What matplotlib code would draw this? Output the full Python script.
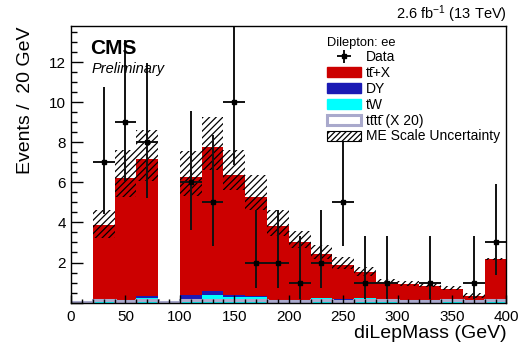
import numpy as np
import matplotlib
matplotlib.use("Agg")
import matplotlib.pyplot as plt
from matplotlib.patches import Patch
from matplotlib.ticker import MultipleLocator, FuncFormatter

plt.rcParams['font.family'] = ['Liberation Sans', 'DejaVu Sans']
plt.rcParams['mathtext.fontset'] = 'custom'
plt.rcParams['mathtext.rm'] = 'Liberation Sans'
plt.rcParams['mathtext.it'] = 'Liberation Sans:italic'
plt.rcParams['hatch.linewidth'] = 0.9

# 20 GeV bins of the dilepton invariant mass
edges = np.arange(0, 420, 20)

# observed events per bin
data = [0, 7, 9, 8, 0, 6, 5, 10, 2, 2, 1, 2, 5, 1, 1, 0, 1, 0, 1, 3]
# Poisson (Garwood) 68% interval bounds for the observed counts
data_lo = [0, 4.42, 6.06, 5.23, 0, 3.62, 2.84, 6.89, 0.71, 0.71, 0.17, 0.71,
           2.84, 0.17, 0.17, 0, 0.17, 0, 0.17, 1.37]
data_hi = [0, 10.77, 13.11, 11.95, 0, 9.58, 8.38, 14.27, 4.64, 4.64, 3.30, 4.64,
           8.38, 3.30, 3.30, 0, 3.30, 0, 3.30, 5.92]

# simulated backgrounds (stacked: tW, DY, ttX)
tw = [0, 0.12, 0.05, 0.22, 0, 0.15, 0.37, 0.28, 0.30, 0.12, 0.08, 0.25,
      0.10, 0.22, 0.10, 0.08, 0.10, 0.10, 0.03, 0.12]
dy = [0, 0.02, 0.02, 0.12, 0, 0.22, 0.20, 0.09, 0.02, 0.02, 0, 0,
      0.07, 0, 0, 0, 0, 0, 0, 0]
ttx = [0, 3.71, 6.15, 6.84, 0, 5.90, 7.21, 6.00, 4.95, 3.68, 2.92, 2.17,
       1.73, 1.30, 0.92, 0.87, 0.75, 0.58, 0.29, 2.03]
# four-top signal scaled by 20
tttt = [0.05, 0.12, 0.10, 0.12, 0.05, 0.15, 0.15, 0.12, 0.12, 0.10, 0.10, 0.12,
        0.06, 0.12, 0.12, 0.08, 0.10, 0.12, 0.10, 0.15]
# ME scale variation envelope on the total prediction
unc_lo = [0, 3.20, 5.27, 6.05, 0, 5.30, 6.60, 5.60, 4.60, 3.30, 2.70, 2.15,
          1.70, 1.35, 0.92, 0.85, 0.78, 0.62, 0.22, 2.10]
unc_hi = [0, 4.62, 7.60, 8.60, 0, 7.55, 9.27, 7.63, 6.35, 4.62, 3.55, 2.85,
          2.25, 1.80, 1.20, 1.10, 1.02, 0.85, 0.48, 2.22]

c_ttx = '#cc0000'
c_dy = '#1a1ab4'
c_tw = '#00ffff'
c_tttt = '#a9a9cc'

fig = plt.figure(figsize=(5.2, 3.47), dpi=100)
ax = fig.add_axes([0.1365, 0.128, 0.8375, 0.797])

left = edges[:-1]
width = np.diff(edges)
tw = np.array(tw)
dy = np.array(dy)
ttx = np.array(ttx)
ax.bar(left, tw, width, align='edge', color=c_tw, linewidth=0)
ax.bar(left, dy, width, bottom=tw, align='edge', color=c_dy, linewidth=0)
ax.bar(left, ttx, width, bottom=tw + dy, align='edge', color=c_ttx, linewidth=0)

ax.stairs(tttt, edges, color=c_tttt, linewidth=2.2)

unc_lo = np.array(unc_lo)
unc_hi = np.array(unc_hi)
ax.bar(left, unc_hi - unc_lo, width, bottom=unc_lo, align='edge', fill=False,
       hatch='/////', edgecolor='black', linewidth=0)

centers = 0.5 * (edges[:-1] + edges[1:])
data = np.array(data, dtype=float)
mask = data > 0
yerr = [data[mask] - np.array(data_lo)[mask], np.array(data_hi)[mask] - data[mask]]
eb = ax.errorbar(centers[mask], data[mask], xerr=10, yerr=yerr, fmt='s',
                 color='black', ecolor='#111111', markersize=3,
                 elinewidth=1.4, capsize=0)

ax.set_xlim(0, 400)
ax.set_ylim(0, 13.8)
ax.xaxis.set_major_locator(MultipleLocator(50))
ax.xaxis.set_minor_locator(MultipleLocator(10))
ax.yaxis.set_major_locator(MultipleLocator(2))
ax.yaxis.set_minor_locator(MultipleLocator(0.5))
ax.yaxis.set_major_formatter(FuncFormatter(lambda v, p: '' if v == 0 else '%d' % v))
ax.tick_params(which='both', direction='in', labelsize=11, top=False, right=False)
ax.tick_params(axis='y', which='major', length=8.5, width=1.0)
ax.tick_params(axis='y', which='minor', length=4.5, width=1.0)
ax.tick_params(axis='x', which='major', length=6, width=1.0, pad=5)
ax.tick_params(axis='x', which='minor', length=3, width=1.0)
for s in ax.spines.values():
    s.set_linewidth(1.0)

ax.set_xlabel('diLepMass (GeV)', fontsize=14, loc='right', labelpad=1)
ax.set_ylabel('Events /  20 GeV', fontsize=14, loc='top', labelpad=11)

ax.text(0.044, 0.919, 'CMS', transform=ax.transAxes, fontsize=15,
        fontweight='bold', va='center', ha='left')
ax.text(0.047, 0.845, 'Preliminary', transform=ax.transAxes, fontsize=10.5,
        style='italic', va='center', ha='left')
ax.text(1.0, 1.005, r'2.6 fb$^{-1}$ (13 TeV)', transform=ax.transAxes,
        fontsize=10.5, va='bottom', ha='right')

handles = [
    eb,
    Patch(facecolor=c_ttx, edgecolor=c_ttx),
    Patch(facecolor=c_dy, edgecolor=c_dy),
    Patch(facecolor=c_tw, edgecolor=c_tw),
    Patch(facecolor='white', edgecolor=c_tttt, linewidth=2.2),
    Patch(facecolor='white', edgecolor='black', hatch='//////', linewidth=0.8),
]
labels = ['Data', 'tt\u0304+X', 'DY', 'tW',
          'tt\u0304tt\u0304 (X 20)', 'ME Scale Uncertainty']
ax.legend(handles, labels, title='Dilepton: ee', title_fontsize=9.3, fontsize=10,
          loc='upper left', bbox_to_anchor=(0.565, 0.997), frameon=False,
          alignment='left', handlelength=2.5, handleheight=0.72,
          handletextpad=0.35, labelspacing=0.13, borderpad=0.2)

fig.savefig('out.png', dpi=100)
